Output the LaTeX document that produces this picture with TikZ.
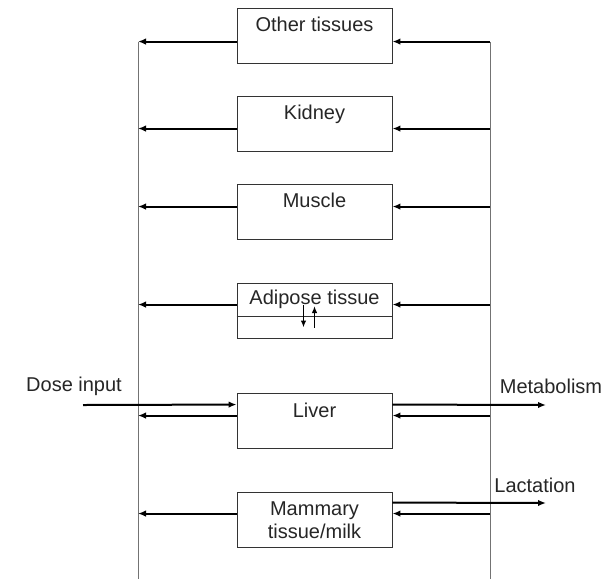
\documentclass[tikz,border=0pt]{standalone}
\usepackage{fontspec}
\setmainfont{Liberation Sans}
\usepackage{tikz}
\usetikzlibrary{positioning,shapes,arrows.meta}

\begin{document}
\begin{tikzpicture}[x=1pt,y=-1pt,
    organ/.style = {draw=black!80, line width=0.9pt, minimum width=155pt, minimum height=55pt, inner sep=0pt},
    organtext/.style = {anchor=base, inner sep=0pt, align=center, text=black!85, font=\fontsize{20}{23}\selectfont},
    sidetext/.style = {inner sep=0pt, text=black!85, font=\fontsize{20}{23}\selectfont},
    bus/.style = {draw=black!55, line width=0.8pt},
    flow/.style = {draw=black, line width=2pt, -{Latex[length=8pt,width=6.5pt]}},
    swap/.style = {draw=black, line width=1.6pt, -{Latex[length=7pt,width=5.5pt]}}]
\useasboundingbox (0,0) rectangle (612,579);

% the two vertical lines
\coordinate (ltop) at (138,42);
\coordinate (lbot) at (138,579);
\coordinate (rtop) at (490,42);
\coordinate (rbot) at (490,579);
\draw[bus] (ltop) -- (lbot);
\draw[bus] (rtop) -- (rbot);

% boxes
\node[organ] (other) at (314.5,35.5) {};
\node[organ] (kidney) at (314.5,123.5) {};
\node[organ] (muscle) at (314.5,211.5) {};
\node[organ] (adipose) at (314.5,310.5) {};
\node[organ] (liver) at (314.5,420.5) {};
\node[organ] (mammary) at (314.5,519.5) {};

\node[organtext] (othertxt) at ([yshift=-24pt]other.north) {Other tissues};
\node[organtext] (kidneytxt) at ([yshift=-24pt]kidney.north) {Kidney};
\node[organtext] (muscletxt) at ([yshift=-24pt]muscle.north) {Muscle};
\node[organtext] (adiposetxt) at ([yshift=-22pt]adipose.north) {Adipose tissue};
\node[organtext] (livertxt) at ([yshift=-25pt]liver.north) {Liver};
\node[organtext] (mammarytxt) at ([yshift=-47pt]mammary.north) {Mammary\\tissue/milk};

% adipose compartment split
\draw[organ] ([yshift=-34pt]adipose.north west) -- ([yshift=-34pt]adipose.north east);
\coordinate (adtop1) at ([xshift=-11pt,yshift=5.5pt]adipose.center);
\coordinate (adbot1) at ([xshift=-11pt,yshift=-17pt]adipose.center);
\coordinate (adtop2) at ([xshift=0pt,yshift=4.5pt]adipose.center);
\coordinate (adbot2) at ([xshift=0pt,yshift=-17pt]adipose.center);
\draw[swap] (adtop1) -- (adbot1);
\draw[swap] (adbot2) -- (adtop2);

% blood flow through the tissues
\foreach \b/\d in {other/34,kidney/33,muscle/23,adipose/22}{
    \coordinate (\b-e) at ([yshift=-\d pt]\b.north east);
    \coordinate (\b-w) at ([yshift=-\d pt]\b.north west);
    \draw[flow] (rtop |- \b-e) -- (\b-e);
    \draw[flow] (\b-w) -- (ltop |- \b-w);
}

% liver
\coordinate (dose) at (83,405);
\coordinate (metab) at (546,405);
\coordinate (liver-in) at ([yshift=-12pt]liver.north west);
\coordinate (liver-bw) at ([yshift=-23pt]liver.north west);
\coordinate (liver-out) at ([yshift=-12pt]liver.north east);
\coordinate (liver-be) at ([yshift=-23pt]liver.north east);
\node[sidetext] (dosetxt) at (74,386) {Dose input};
\node[sidetext] (metabtxt) at (551,386) {Metabolism};
\draw[flow] (dose) -- (liver-in);
\draw[flow] (liver-bw) -- (ltop |- liver-bw);
\draw[flow] (liver-out) -- (metab);
\draw[flow] (rtop |- liver-be) -- (liver-be);

% mammary
\coordinate (lact) at (546,503);
\coordinate (mam-out) at ([yshift=-11pt]mammary.north east);
\coordinate (mam-be) at ([yshift=-22pt]mammary.north east);
\coordinate (mam-bw) at ([yshift=-22pt]mammary.north west);
\node[sidetext] (lacttxt) at (535,485) {Lactation};
\draw[flow] (mam-out) -- (lact);
\draw[flow] (rtop |- mam-be) -- (mam-be);
\draw[flow] (mam-bw) -- (ltop |- mam-bw);
\end{tikzpicture}
\end{document}
